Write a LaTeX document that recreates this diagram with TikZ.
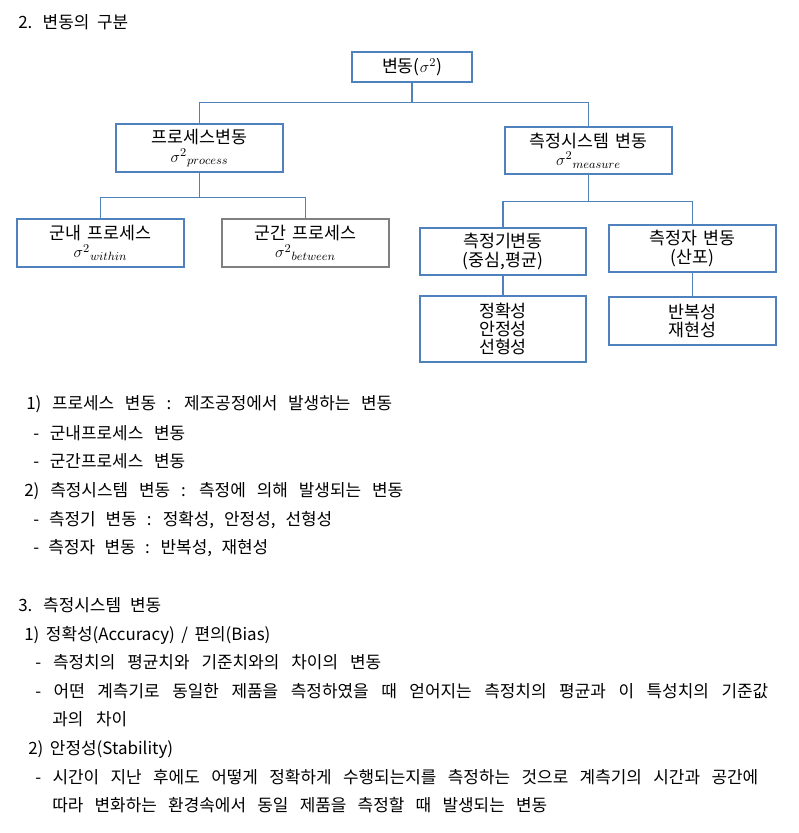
\documentclass[tikz,border=0pt]{standalone}
\usepackage{fontspec}
\setmainfont{Noto Sans CJK KR}[WordSpace=2.6]
\newfontfamily\boxfont{Noto Sans CJK KR}[WordSpace=1.4]
\usepackage{xcolor}
\usepackage{tikz}

\definecolor{boxblue}{RGB}{79,129,189}
\definecolor{boxgray}{RGB}{128,128,128}
\newlength\px
\setlength\px{0.75pt}
% a text line stretched to the width (in px) it has in the picture
\newcommand{\jline}[2]{\makebox[#1\px][s]{#2}}

\tikzset{
  box/.style={draw=boxblue, line width=1.2pt, minimum width=167\px, minimum height=48\px,
    align=center, inner sep=1pt, font=\boxfont\fontsize{13}{13.8}\selectfont},
  link/.style={draw=boxblue, line width=0.9pt},
  txt/.style={anchor=base west, inner sep=0pt, font=\fontsize{12.7}{14}\selectfont},
}

\begin{document}
\begin{tikzpicture}[x=0.75pt, y=-0.75pt]
  \useasboundingbox (0,0) rectangle (799,833);

  % Heading
  \node[txt] (head2) at (18,28) {\jline{110}{2. 변동의 구분}};

  % Tree boxes
  \node[box, minimum width=120\px, minimum height=30\px] (root) at (412,67) {변동($\sigma^{2}$)};
  \node[box] (proc) at (199.5,148) {프로세스변동\\$\sigma^{2}{}_{process}$};
  \node[box] (within) at (100.5,243) {군내 프로세스\\$\sigma^{2}{}_{within}$};
  \node[box, draw=boxgray] (between) at (305.5,243) {군간 프로세스\\$\sigma^{2}{}_{between}$};
  \node[box, minimum height=47\px] (meas) at (588.5,150.5) {측정시스템 변동\\$\sigma^{2}{}_{measure}$};
  \node[box, minimum width=166\px, minimum height=47\px] (gauge) at (503,251.5) {측정기변동\\(중심,평균)};
  \node[box, minimum height=47\px] (oper) at (692.5,248.5) {측정자 변동\\(산포)};
  \node[box, minimum width=166\px, minimum height=66\px] (gitems) at (503,329) {정확성\\안정성\\선형성};
  \node[box] (oitems) at (692.5,321) {반복성\\재현성};

  % Connectors
  \draw[link] (root.south) -- ++(0,20) -| (proc.north);
  \draw[link] (root.south) -- ++(0,20) -| (meas.north);
  \draw[link] (proc.south) -- ++(0,25) -| (within.north);
  \draw[link] (proc.south) -- ++(0,25) -| (between.north);
  \draw[link] (meas.south) -- ++(0,27) -| (gauge.north);
  \draw[link] (meas.south) -- ++(0,27) -| (oper.north);
  \draw[link] (gauge.south) -- (gitems.north);
  \draw[link] (oper.south) -- (oitems.north);

  % Notes on the tree
  \node[txt] (l1) at (26,409) {\jline{366}{1) 프로세스 변동 : 제조공정에서 발생하는 변동}};
  \node[txt] (l2) at (33,439) {\jline{152}{- 군내프로세스 변동}};
  \node[txt] (l3) at (33,467) {\jline{152}{- 군간프로세스 변동}};
  \node[txt] (l4) at (24,496) {\jline{379}{2) 측정시스템 변동 : 측정에 의해 발생되는 변동}};
  \node[txt] (l5) at (33,525) {\jline{299}{- 측정기 변동 : 정확성, 안정성, 선형성}};
  \node[txt] (l6) at (33,553) {\jline{235}{- 측정자 변동 : 반복성, 재현성}};

  % Section 3
  \node[txt] (head3) at (18,611) {\jline{143}{3. 측정시스템 변동}};
  \node[txt] (m1) at (24,640) {\jline{243}{1) 정확성(Accuracy) / 편의(Bias)}};
  \node[txt] (m2) at (35,668) {\jline{346}{- 측정치의 평균치와 기준치와의 차이의 변동}};
  \node[txt] (m3) at (35,697) {\jline{733}{- 어떤 계측기로 동일한 제품을 측정하였을 때 얻어지는 측정치의 평균과 이 특성치의 기준값}};
  \node[txt] (m4) at (52,725) {\jline{75}{과의 차이}};
  \node[txt] (m5) at (28,754) {\jline{140}{2) 안정성(Stability)}};
  \node[txt] (m6) at (35,783) {\jline{723}{- 시간이 지난 후에도 어떻게 정확하게 수행되는지를 측정하는 것으로 계측기의 시간과 공간에}};
  \node[txt] (m7) at (52,811) {\jline{495}{따라 변화하는 환경속에서 동일 제품을 측정할 때 발생되는 변동}};
\end{tikzpicture}
\end{document}
